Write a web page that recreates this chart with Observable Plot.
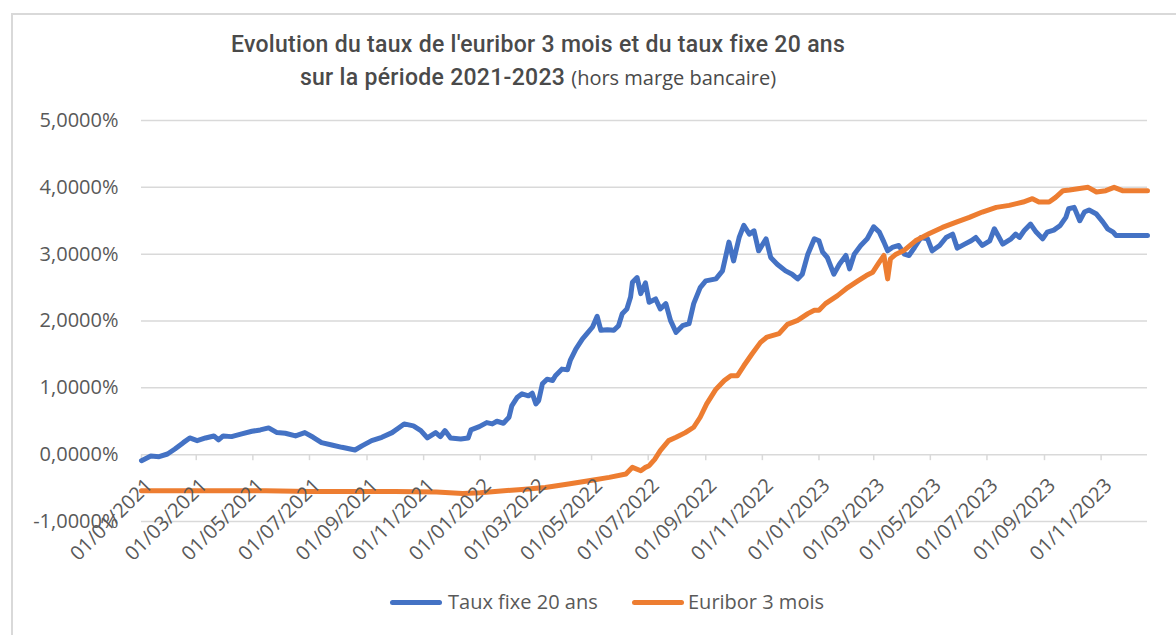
<!DOCTYPE html>
<html><head><meta charset="utf-8">
<script src="https://cdn.jsdelivr.net/npm/d3@7"></script>
<script src="https://cdn.jsdelivr.net/npm/@observablehq/plot@0.6"></script>
<style>
body{margin:0;background:#fff;}
#wrap{position:relative;width:1176px;height:635px;overflow:hidden;background:#fff;font-family:"Open Sans",sans-serif;}
#border{position:absolute;left:11px;top:13px;width:1300px;height:800px;border-left:2px solid #d9d9d9;border-top:2px solid #d9d9d9;}
#chart{position:absolute;left:0;top:0;}
#title{position:absolute;left:138px;width:800px;top:28px;text-align:center;color:#4a4a4a;font-family:Roboto,sans-serif;font-weight:500;font-size:23px;letter-spacing:0.3px;line-height:33px;}
#title .small{font-family:"Open Sans",sans-serif;font-weight:400;letter-spacing:0;font-size:20px;}
#legend{position:absolute;left:0;top:588px;width:1176px;height:28px;}
#legend .sw{position:absolute;top:12px;width:52px;height:5px;border-radius:3px;}
#legend .lb{position:absolute;top:0;line-height:28px;font-size:20px;color:#595959;white-space:nowrap;}
</style></head>
<body>
<div id="wrap">
  <div id="border"></div>
  <div id="chart"></div>
  <div id="title"></div>
  <div id="legend"></div>
</div>
<script>
const titleLine1 = "Evolution du taux de l'euribor 3 mois et du taux fixe 20 ans";
const titleLine2 = "sur la période 2021-2023";
const titleLine2Small = "(hors marge bancaire)";
const seriesNames = ["Taux fixe 20 ans", "Euribor 3 mois"];
const seriesColors = ["#4472C4", "#ED7D31"];

const xTickLabels = ["01/01/2021","01/03/2021","01/05/2021","01/07/2021","01/09/2021","01/11/2021",
  "01/01/2022","01/03/2022","01/05/2022","01/07/2022","01/09/2022","01/11/2022",
  "01/01/2023","01/03/2023","01/05/2023","01/07/2023","01/09/2023","01/11/2023"];
const xDomain = ["2021-01-01", "2023-12-21"];
const yTicks = [-1, 0, 1, 2, 3, 4, 5];

const tauxDates = ["2021-01-01","2021-01-11","2021-01-20","2021-01-29","2021-02-06","2021-02-15","2021-02-22","2021-03-02","2021-03-11","2021-03-20","2021-03-25","2021-03-30","2021-04-08","2021-04-19","2021-04-30","2021-05-09","2021-05-18","2021-05-27","2021-06-05","2021-06-16","2021-06-26","2021-07-05","2021-07-14","2021-07-25","2021-08-05","2021-08-19","2021-08-27","2021-09-06","2021-09-17","2021-09-28","2021-10-05","2021-10-11","2021-10-21","2021-10-29","2021-11-05","2021-11-14","2021-11-19","2021-11-24","2021-11-30","2021-12-11","2021-12-19","2021-12-22","2021-12-31",
"2022-01-08","2022-01-14","2022-01-19","2022-01-26","2022-02-01","2022-02-04","2022-02-10","2022-02-15","2022-02-22","2022-02-26","2022-03-02","2022-03-05","2022-03-09","2022-03-14","2022-03-20","2022-03-23","2022-03-30","2022-04-05","2022-04-08","2022-04-14","2022-04-21","2022-04-26","2022-05-02","2022-05-07","2022-05-11","2022-05-18","2022-05-25","2022-05-30","2022-06-03","2022-06-08","2022-06-12","2022-06-14","2022-06-19","2022-06-23","2022-06-28","2022-07-02","2022-07-09","2022-07-14","2022-07-20","2022-07-25","2022-07-31","2022-08-07","2022-08-14","2022-08-19","2022-08-26","2022-09-01","2022-09-12","2022-09-19","2022-09-26","2022-10-01","2022-10-07","2022-10-12","2022-10-18","2022-10-23","2022-10-28","2022-11-05","2022-11-10","2022-11-17","2022-11-26","2022-12-03","2022-12-09","2022-12-14","2022-12-20","2022-12-27",
"2023-01-01","2023-01-05","2023-01-10","2023-01-17","2023-01-23","2023-01-30","2023-02-03","2023-02-08","2023-02-15","2023-02-22","2023-03-01","2023-03-07","2023-03-12","2023-03-16","2023-03-21","2023-03-28","2023-04-03","2023-04-08","2023-04-14","2023-04-21","2023-04-28","2023-05-03","2023-05-11","2023-05-18","2023-05-25","2023-05-30","2023-06-07","2023-06-14","2023-06-19","2023-06-26","2023-07-04","2023-07-09","2023-07-13","2023-07-18","2023-07-27","2023-08-01","2023-08-05","2023-08-10","2023-08-17","2023-08-23","2023-08-30","2023-09-04","2023-09-11","2023-09-18","2023-09-24","2023-09-27","2023-10-03","2023-10-09","2023-10-14","2023-10-19","2023-10-27","2023-11-03","2023-11-08","2023-11-14","2023-11-17","2023-12-01","2023-12-21"];
const tauxValues = [-0.09,-0.02,-0.03,0.01,0.085,0.18,0.25,0.21,0.25,0.28,0.22,0.28,0.27,0.31,0.35,0.37,0.40,0.33,0.32,0.28,0.33,0.26,0.18,0.145,0.11,0.07,0.135,0.21,0.26,0.33,0.40,0.46,0.43,0.36,0.25,0.33,0.27,0.36,0.25,0.235,0.25,0.37,0.42,
0.48,0.46,0.50,0.47,0.56,0.73,0.86,0.91,0.88,0.92,0.76,0.81,1.06,1.13,1.11,1.18,1.28,1.27,1.41,1.58,1.73,1.81,1.91,2.07,1.86,1.87,1.86,1.93,2.11,2.18,2.36,2.58,2.65,2.41,2.57,2.28,2.33,2.18,2.26,2.01,1.83,1.93,1.96,2.26,2.50,2.60,2.63,2.75,3.18,2.90,3.25,3.43,3.30,3.35,3.05,3.23,2.95,2.85,2.75,2.70,2.63,2.70,3.00,3.23,
3.20,3.03,2.95,2.70,2.85,2.98,2.78,3.00,3.13,3.23,3.41,3.33,3.18,3.05,3.10,3.13,3.00,2.98,3.10,3.25,3.23,3.05,3.13,3.25,3.30,3.09,3.15,3.20,3.25,3.13,3.20,3.38,3.28,3.15,3.23,3.30,3.25,3.35,3.45,3.33,3.23,3.33,3.36,3.43,3.55,3.68,3.70,3.50,3.63,3.66,3.60,3.48,3.38,3.33,3.28,3.28,3.28];

const euriborDates = ["2021-01-01","2021-02-15","2021-04-01","2021-05-15","2021-07-01","2021-08-15","2021-10-01","2021-11-15","2021-12-13",
"2022-01-01","2022-01-17","2022-02-15","2022-03-12","2022-04-06","2022-04-28","2022-05-20","2022-06-07","2022-06-14","2022-06-23","2022-06-28","2022-07-02","2022-07-08","2022-07-14","2022-07-23","2022-07-31","2022-08-10","2022-08-19","2022-08-26","2022-09-02","2022-09-12","2022-09-21","2022-09-28","2022-10-05","2022-10-12","2022-10-21","2022-10-30","2022-11-06","2022-11-19","2022-11-28","2022-12-09","2022-12-20","2022-12-27",
"2023-01-01","2023-01-08","2023-01-21","2023-02-01","2023-02-12","2023-02-21","2023-02-28","2023-03-07","2023-03-12","2023-03-14","2023-03-16","2023-03-19","2023-03-25","2023-04-03","2023-04-15","2023-04-30","2023-05-14","2023-05-29","2023-06-12","2023-06-26","2023-07-11","2023-07-25","2023-08-09","2023-08-19","2023-08-26","2023-09-06","2023-09-13","2023-09-21","2023-09-28","2023-10-07","2023-10-18","2023-10-27","2023-11-06","2023-11-15","2023-11-24","2023-12-09","2023-12-21"];
const euriborValues = [-0.54,-0.54,-0.54,-0.54,-0.55,-0.55,-0.55,-0.56,-0.58,
-0.57,-0.55,-0.52,-0.49,-0.44,-0.39,-0.34,-0.29,-0.19,-0.24,-0.19,-0.165,-0.07,0.06,0.21,0.26,0.33,0.41,0.56,0.76,0.98,1.11,1.18,1.18,1.33,1.51,1.68,1.76,1.81,1.95,2.01,2.11,2.16,
2.16,2.26,2.38,2.50,2.60,2.68,2.73,2.88,2.98,2.80,2.63,2.93,3.00,3.06,3.20,3.31,3.40,3.48,3.55,3.63,3.70,3.73,3.78,3.83,3.78,3.78,3.85,3.95,3.96,3.98,4.00,3.93,3.95,4.00,3.95,3.95,3.95];

const parseISO = d3.utcParse("%Y-%m-%d");
const parseFR = d3.utcParse("%d/%m/%Y");
const taux = tauxDates.map((d, i) => ({date: parseISO(d), value: tauxValues[i]}));
const euribor = euriborDates.map((d, i) => ({date: parseISO(d), value: euriborValues[i]}));
const xTicks = xTickLabels.map(parseFR);
const fmtY = v => v.toFixed(4).replace(".", ",") + "%";

const chart = Plot.plot({
  width: 1176, height: 635,
  marginLeft: 141, marginRight: 29, marginTop: 120, marginBottom: 114,
  style: {fontFamily: "'Open Sans', sans-serif", fontSize: "20px", color: "#595959", background: "transparent", overflow: "visible"},
  x: {type: "utc", domain: xDomain.map(parseISO), axis: null},
  y: {domain: [-1, 5]},
  marks: [
    Plot.gridY(yTicks, {stroke: "#d9d9d9", strokeOpacity: 1, strokeWidth: 1.5}),
    Plot.axisY(yTicks, {tickSize: 0, tickPadding: 23, tickFormat: fmtY, fill: "#595959", fontSize: 20, label: null}),
    Plot.ruleX(xTicks, {x: d => d, y1: 0, y2: 0, insetBottom: -6, stroke: "#d9d9d9", strokeWidth: 1.5}),
    Plot.line(taux, {x: "date", y: "value", stroke: seriesColors[0], strokeWidth: 5, strokeLinejoin: "round"}),
    Plot.line(euribor, {x: "date", y: "value", stroke: seriesColors[1], strokeWidth: 5, strokeLinejoin: "round"}),
    Plot.text(xTicks, {x: d => d, y: 0, text: (d, i) => xTickLabels[i], rotate: -45, textAnchor: "end", lineAnchor: "top", dx: 2, dy: 22, fill: "#595959", fontSize: 20})
  ]
});
document.getElementById("chart").appendChild(chart);

document.getElementById("title").innerHTML =
  `<div>${titleLine1}</div><div>${titleLine2} <span class="small">${titleLine2Small}</span></div>`;

const legendPos = [{sw: 390, lb: 448}, {sw: 632, lb: 688}];
document.getElementById("legend").innerHTML = seriesNames.map((n, i) =>
  `<span class="sw" style="left:${legendPos[i].sw}px;background:${seriesColors[i]}"></span>` +
  `<span class="lb" style="left:${legendPos[i].lb}px">${n}</span>`).join("");
</script>
</body></html>
